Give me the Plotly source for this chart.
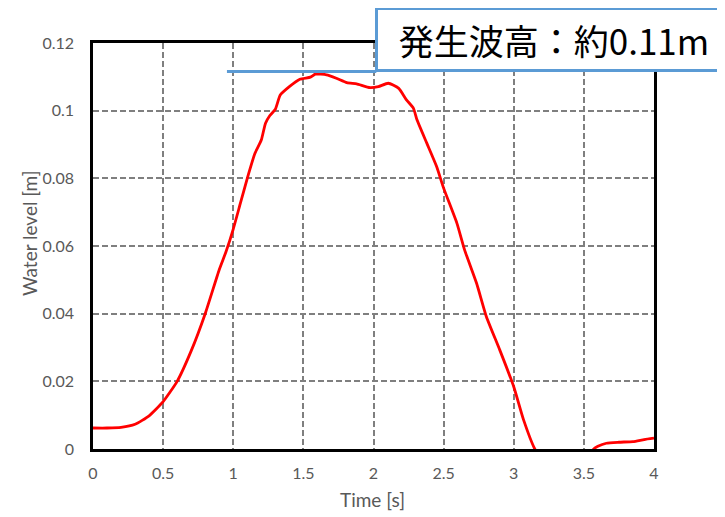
import plotly.graph_objects as go

time_s = [0.00, 0.10, 0.20, 0.30, 0.40, 0.50, 0.60, 0.70, 0.80, 0.90, 0.95, 1.00, 1.05, 1.10,
          1.155, 1.20, 1.23, 1.26, 1.30, 1.335, 1.40, 1.475, 1.55, 1.585, 1.665, 1.735, 1.81,
          1.88, 1.975, 2.035, 2.105, 2.18, 2.235, 2.285, 2.31, 2.38, 2.45, 2.50, 2.595, 2.65,
          2.735, 2.805, 2.90, 3.00, 3.07, 3.15, 3.25, 3.40, 3.50, 3.57, 3.60, 3.66, 3.75, 3.85,
          3.93, 4.00]
water_level = [0.0062, 0.0062, 0.0064, 0.0073, 0.0098, 0.0140, 0.0200, 0.0290, 0.0400, 0.0530,
               0.0585, 0.0650, 0.0725, 0.0800, 0.0874, 0.0913, 0.0963, 0.0985, 0.1004, 0.1046,
               0.1071, 0.1093, 0.1099, 0.1108, 0.1106, 0.1096, 0.1083, 0.1079, 0.1068, 0.1071,
               0.1081, 0.1066, 0.1032, 0.1007, 0.0973, 0.0904, 0.0835, 0.0771, 0.0667, 0.0588,
               0.0490, 0.0391, 0.0293, 0.0184, 0.0086, 0.0000, -0.006, -0.008, -0.004, 0.0000,
               0.0008, 0.0017, 0.0020, 0.0022, 0.0028, 0.0032]

x_ticks = [0, 0.5, 1, 1.5, 2, 2.5, 3, 3.5, 4]
x_tick_labels = ["0", "0.5", "1", "1.5", "2", "2.5", "3", "3.5", "4"]
y_ticks = [0, 0.02, 0.04, 0.06, 0.08, 0.1, 0.12]
y_tick_labels = ["0", "0.02", "0.04", "0.06", "0.08", "0.1", "0.12"]

wave_height_level = 0.1116
wave_height_start = 0.955
wave_height_end = 2.02
annotation_text = "発生波高：約0.11m"

fig = go.Figure()
fig.add_trace(go.Scatter(x=time_s, y=water_level, mode="lines",
                         line=dict(color="#ff0000", width=2.8, shape="spline", smoothing=0.5),
                         hoverinfo="skip", showlegend=False))

fig.add_shape(type="line", xref="x", yref="y", x0=wave_height_start, x1=wave_height_end,
              y0=wave_height_level, y1=wave_height_level,
              line=dict(color="#5b9bd5", width=3), layer="above")

fig.add_annotation(text=annotation_text, xref="paper", yref="paper",
                   x=0.8217, y=1.0086, xanchor="center", yanchor="middle",
                   showarrow=False, width=352, height=59, borderwidth=3, borderpad=0,
                   bordercolor="#5b9bd5", bgcolor="white",
                   font=dict(family="Noto Sans CJK JP", size=35, color="black"))

title_font = dict(family="Lato", size=19, color="#595959")
fig.add_annotation(text="Water level [m]", xref="paper", yref="paper", x=-0.114, y=0.532,
                   textangle=-90, showarrow=False, xanchor="center", yanchor="middle",
                   font=title_font)
fig.add_annotation(text="Time [s]", xref="paper", yref="paper", x=0.499, y=-0.1256,
                   showarrow=False, xanchor="center", yanchor="middle", font=title_font)

tick_font = dict(family="Lato", size=16, color="#595959")
grid = dict(showgrid=True, gridcolor="#7f7f7f", gridwidth=1.5, griddash="6px,3px",
            showline=True, linecolor="black", linewidth=2.5, mirror=True,
            tickcolor="rgba(0,0,0,0)", ticks="outside", tickfont=tick_font,
            zeroline=False, automargin=False)
fig.update_layout(
    width=725, height=517,
    margin=dict(l=85, r=79, t=35, b=76),
    paper_bgcolor="white", plot_bgcolor="white",
    xaxis=dict(range=[0, 4], tickvals=x_ticks, ticktext=x_tick_labels, ticklen=8, **grid),
    yaxis=dict(range=[0, 0.12], tickvals=y_ticks, ticktext=y_tick_labels, ticklen=13, **grid),
)

fig.write_html("out.html")
